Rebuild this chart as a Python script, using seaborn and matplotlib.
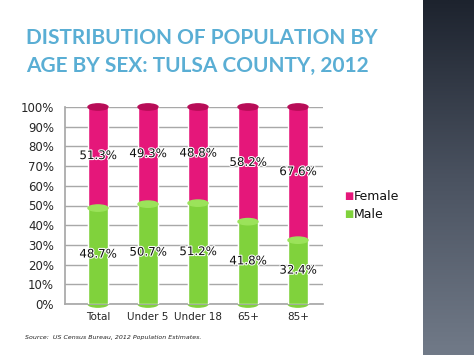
import numpy as np
import pandas as pd
import matplotlib
matplotlib.use('Agg')
import matplotlib.pyplot as plt
import matplotlib.patheffects as pe
from matplotlib.patches import Ellipse
import seaborn as sns

# data
groups = ['Total', 'Under 5', 'Under 18', '65+', '85+']
female = [51.3, 49.3, 48.8, 58.2, 67.6]
male = [48.7, 50.7, 51.2, 41.8, 32.4]
yticks = [0, 10, 20, 30, 40, 50, 60, 70, 80, 90, 100]

pink = '#e5177a'
pink_dark = '#b80c57'
green = '#80d23c'
green_light = '#9be35a'

df = pd.DataFrame({'Group': groups, 'Female': female, 'Male': male})
df['Total'] = df['Female'] + df['Male']

sns.set_theme(style='white')
plt.rcParams['font.family'] = ['DejaVu Sans']

fig = plt.figure(figsize=(4.74, 3.55), dpi=100)
fig.patch.set_facecolor('white')

# dark stripe on the right of the slide
side = fig.add_axes([423 / 474, 0, 1 - 423 / 474, 1])
grad = np.linspace(0, 1, 256).reshape(-1, 1)
side.imshow(grad, aspect='auto', cmap=matplotlib.colors.LinearSegmentedColormap.from_list(
    'slide', ['#1d232e', '#4a5260', '#717a88']), extent=[0, 1, 1, 0])
side.axis('off')

ax = fig.add_axes([65 / 474, (355 - 304) / 355, 258 / 474, 197 / 355])

bw = 0.4
sns.barplot(data=df, x='Group', y='Total', color=pink, width=bw, saturation=1,
            ax=ax, zorder=2)
sns.barplot(data=df, x='Group', y='Male', color=green, width=bw, saturation=1,
            ax=ax, zorder=3)

for i, (f, m) in enumerate(zip(female, male)):
    ax.add_patch(Ellipse((i, 0), bw, 3.2, color=green, zorder=1.5, clip_on=False))
    ax.add_patch(Ellipse((i, m), bw, 3.2, color=green_light, zorder=4))
    ax.add_patch(Ellipse((i, m + f), bw, 3.2, color=pink_dark, zorder=4, clip_on=False))
    ax.text(i, m + f / 2 + 1, f'{f}%', ha='center', va='center', fontsize=8.5,
            color='#111111', zorder=5,
            path_effects=[pe.withStroke(linewidth=1.5, foreground='white')])
    ax.text(i, m / 2 + 1, f'{m}%', ha='center', va='center', fontsize=8.5,
            color='#111111', zorder=5,
            path_effects=[pe.withStroke(linewidth=1.5, foreground='white')])

ax.set_ylim(0, 100)
ax.set_xlim(-0.66, 4.5)
ax.set_yticks(yticks)
ax.set_yticklabels([f'{t}%' for t in yticks], fontsize=8.5)
ax.tick_params(axis='x', labelsize=7.5, length=0, pad=6)
ax.tick_params(axis='y', length=0, pad=8)
ax.set_xlabel('')
ax.set_ylabel('')
ax.grid(axis='y', color='#a8a8a8', linewidth=1)
ax.set_axisbelow(True)
for s in ['top', 'right']:
    ax.spines[s].set_visible(False)
for s in ['left', 'bottom']:
    ax.spines[s].set_color('#a8a8a8')

# legend
fig.text(344 / 474, 1 - 196 / 355, '\u25a0', color=pink, fontsize=7, va='center')
fig.text(354 / 474, 1 - 196 / 355, 'Female', fontsize=9, va='center', color='#111111')
fig.text(344 / 474, 1 - 214 / 355, '\u25a0', color=green, fontsize=7, va='center')
fig.text(354 / 474, 1 - 214 / 355, 'Male', fontsize=9, va='center', color='#111111')

# title
title_font = ['Lato', 'DejaVu Sans']
fig.text(26 / 474, 1 - 38 / 355, 'DISTRIBUTION OF POPULATION BY', fontsize=15,
         fontweight='bold', color='#5aaed4', va='center', ha='left', family=title_font)
fig.text(26 / 474, 1 - 66 / 355, 'AGE BY SEX: TULSA COUNTY, 2012', fontsize=15,
         fontweight='bold', color='#5aaed4', va='center', ha='left', family=title_font)

fig.text(25 / 474, 1 - 338 / 355, 'Source:  US Census Bureau, 2012 Population Estimates.',
         fontsize=4.5, style='italic', color='#222222', va='center')

fig.savefig('out.png', dpi=100)
